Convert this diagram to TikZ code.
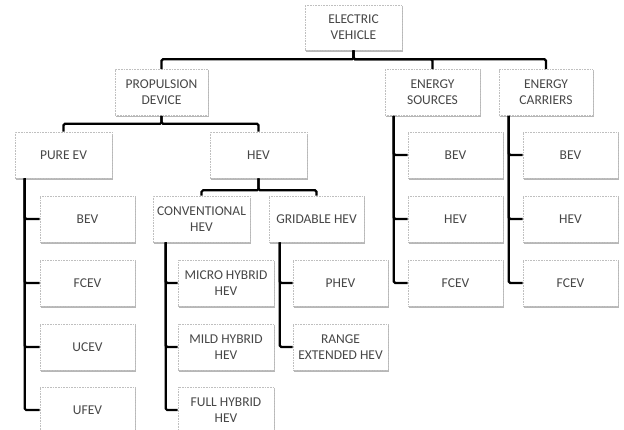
\documentclass[tikz,border=0pt]{standalone}
\usepackage{fontspec}
\setmainfont{Carlito}
\usetikzlibrary{shadows}
\begin{document}
\begin{tikzpicture}[x=1pt,y=-1pt,
 box/.style={rectangle, fill=white, draw=gray!50, densely dotted, line width=0.6pt,
   minimum width=96pt, minimum height=46pt, inner sep=1pt, align=center,
   text=black!72, font=\fontsize{13.5}{15.8}\selectfont,
   drop shadow={shadow xshift=1.3pt, shadow yshift=-1.8pt, fill=gray!80, opacity=0.7}},
 conn/.style={draw=black, line width=2.2pt, rounded corners=1.5pt, solid}]
\clip (0,0) rectangle (624,429);
\fill[white] (0,0) rectangle (624,429);
% level 0
\node[box, minimum width=97pt, minimum height=45pt] (ev) at (353.5,27.5) {ELECTRIC\\VEHICLE};
% level 1
\node[box, minimum width=93pt] (prop) at (161.5,92.5) {PROPULSION\\DEVICE};
\node[box, minimum width=95pt] (es) at (432.5,92.5) {ENERGY\\SOURCES};
\node[box, minimum width=94pt] (ec) at (546,92.5) {ENERGY\\CARRIERS};
% level 2
\node[box, minimum width=97pt] (pure) at (63.5,155) {PURE EV};
\node[box, minimum width=97pt] (hev) at (258.5,155) {HEV};
% level 3
\node[box, minimum width=97pt] (conv) at (201.5,219) {CONVENTIONAL\\HEV};
\node[box, minimum width=95pt] (grid) at (316.5,219) {GRIDABLE HEV};
% pure EV children
\node[box, minimum width=95pt] (p1) at (87.5,219) {BEV};
\node[box, minimum width=95pt] (p2) at (87.5,283) {FCEV};
\node[box, minimum width=95pt] (p3) at (87.5,347) {UCEV};
\node[box, minimum width=95pt] (p4) at (87.5,410) {UFEV};
% conventional children
\node[box] (c1) at (226,283) {MICRO HYBRID\\HEV};
\node[box] (c2) at (226,347) {MILD HYBRID\\HEV};
\node[box] (c3) at (226,410) {FULL HYBRID\\HEV};
% gridable children
\node[box, minimum width=95pt] (g1) at (340.5,283) {PHEV};
\node[box, minimum width=95pt] (g2) at (340.5,347) {RANGE\\EXTENDED HEV};
% energy sources children
\node[box, minimum width=95pt] (s1) at (455.5,155) {BEV};
\node[box, minimum width=95pt] (s2) at (455.5,219) {HEV};
\node[box, minimum width=95pt] (s3) at (455.5,283) {FCEV};
% energy carriers children
\node[box, minimum width=95pt] (e1) at (570.5,155) {BEV};
\node[box, minimum width=95pt] (e2) at (570.5,219) {HEV};
\node[box, minimum width=95pt] (e3) at (570.5,283) {FCEV};
% connectors: tree buses
\draw[conn] (ev.south) -- ++(0,9) -| (prop.north);
\draw[conn] (ev.south) -- ++(0,9) -| (es.north);
\draw[conn] (ev.south) -- ++(0,9) -| (ec.north);
\draw[conn] (prop.south) -- ++(0,8) -| (pure.north);
\draw[conn] (prop.south) -- ++(0,8) -| (hev.north);
\draw[conn] (hev.south) -- ++(0,12) -| (conv.north);
\draw[conn] (hev.south) -- ++(0,12) -| (grid.north);
% side lists
\foreach \c in {p1,p2,p3,p4} \draw[conn] ([xshift=10pt]pure.south west) |- (\c.west);
\foreach \c in {c1,c2,c3} \draw[conn] ([xshift=13pt]conv.south west) |- (\c.west);
\foreach \c in {g1,g2} \draw[conn] ([xshift=11pt]grid.south west) |- (\c.west);
\foreach \c in {s1,s2,s3} \draw[conn] ([xshift=9pt]es.south west) |- (\c.west);
\foreach \c in {e1,e2,e3} \draw[conn] ([xshift=10pt]ec.south west) |- (\c.west);
\end{tikzpicture}
\end{document}
